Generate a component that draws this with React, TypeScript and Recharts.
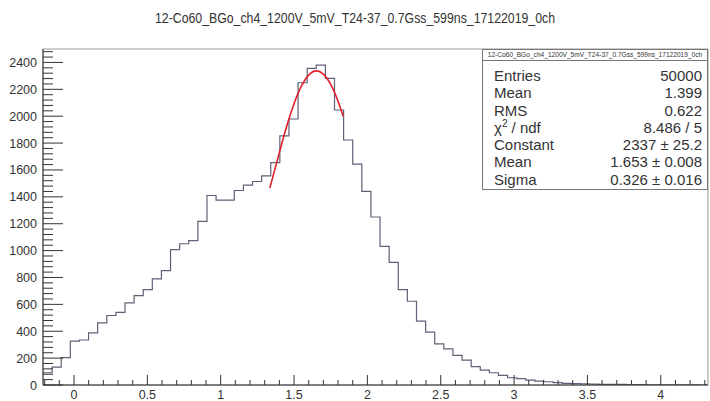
import React from "react";
import { ComposedChart, Line, XAxis, YAxis, ReferenceArea } from "recharts";

const title = "12-Co60_BGo_ch4_1200V_5mV_T24-37_0.7Gss_599ns_17122019_0ch";

// histogram: 73 equal bins starting at the left edge of the frame
const binStart = -0.2113;
const binWidth = 0.0621;
const counts = [
  91, 133, 203, 326, 335, 388, 462, 517, 541, 611, 665, 710, 789, 851,
  1007, 1051, 1074, 1217, 1410, 1376, 1376, 1447, 1487, 1514, 1556, 1655, 1853, 1979,
  2249, 2356, 2380, 2281, 2046, 1823, 1643, 1440, 1250, 1031, 912, 710, 623, 475,
  393, 306, 269, 220, 185, 136, 111, 91, 71, 54, 47, 36, 29, 24, 17,
  12, 10, 8, 7, 5, 5, 4, 3, 3, 2, 2, 1, 2, 1, 1, 0,
];

// gaussian fit curve
const fitX = [1.335, 1.4, 1.45, 1.5, 1.55, 1.6, 1.653, 1.7, 1.75, 1.8, 1.835];
const fitY = [1465, 1729, 1925, 2093, 2223, 2306, 2337, 2313, 2236, 2111, 2000];

const xMajor = [0, 0.5, 1, 1.5, 2, 2.5, 3, 3.5, 4];
const yMajor = [0, 200, 400, 600, 800, 1000, 1200, 1400, 1600, 1800, 2000, 2200, 2400];

const statLabels = ["Entries", "Mean", "RMS", "chi", "Constant", "Mean", "Sigma"];
const statValues = ["50000", "1.399", "0.622", "8.486 / 5", "2337 \u00b1 25.2", "1.653 \u00b1 0.008", "0.326 \u00b1 0.016"];

const xMin = binStart;
const xMax = binStart + counts.length * binWidth;

const histData = counts.map((c, i) => ({ x: binStart + i * binWidth, count: c }));
histData.push({ x: xMax, count: counts[counts.length - 1] });

const fitData = fitX.map((x, i) => ({ x, fit: fitY[i] }));

const xTicks: number[] = [];
for (let t = -2; t <= 43; t++) xTicks.push(t / 10);
const yTicks: number[] = [];
for (let t = 0; t <= 62; t++) yTicks.push(t * 40);

const font = '"Liberation Sans", Arial, Helvetica, sans-serif';
const ink = "#333";

const isMajor = (v: number, list: number[]) => list.some((m) => Math.abs(m - v) < 1e-6);

const XTick = ({ x, y, payload }: any) => {
  const major = isMajor(payload.value, xMajor);
  return (
    <g>
      <line x1={x} x2={x} y1={y} y2={y - (major ? 10 : 5)} stroke={ink} />
      {major && (
        <text x={x} y={y + 14} textAnchor="middle" fontSize={12.5} fontFamily={font} fill={ink}>
          {payload.value}
        </text>
      )}
    </g>
  );
};

const YTick = ({ x, y, payload }: any) => {
  const major = isMajor(payload.value, yMajor);
  return (
    <g>
      <line x1={x} x2={x + (major ? 20 : 10)} y1={y} y2={y} stroke={ink} />
      {major && (
        <text x={x - 6} y={y + 4.5} textAnchor="end" fontSize={12.5} fontFamily={font} fill={ink}>
          {payload.value}
        </text>
      )}
    </g>
  );
};

export default function App() {
  return (
    <div style={{ position: "absolute", left: 0, top: 0, width: 710, height: 401, background: "#fff", overflow: "hidden" }}>
      <div
        style={{
          position: "absolute",
          left: 0,
          top: 9,
          width: 710,
          textAlign: "center",
          fontFamily: font,
          fontSize: 15,
          color: ink,
          transform: "scaleX(0.82)",
          transformOrigin: "355px 0",
        }}
      >
        {title}
      </div>

      <ComposedChart width={710} height={401} margin={{ top: 49, right: 2, bottom: 0, left: 0 }}>
        <XAxis
          type="number"
          dataKey="x"
          domain={[xMin, xMax]}
          ticks={xTicks}
          interval={0}
          allowDataOverflow
          height={16}
          tickSize={0}
          tickMargin={0}
          tickLine={false}
          tick={<XTick />}
          axisLine={{ stroke: ink }}
        />
        <YAxis
          type="number"
          domain={[0, 2500]}
          ticks={yTicks}
          interval={0}
          allowDataOverflow
          width={43}
          tickSize={0}
          tickMargin={0}
          tickLine={false}
          tick={<YTick />}
          axisLine={{ stroke: ink }}
        />
        <ReferenceArea x1={xMin} x2={xMax} y1={0} y2={2500} fill="none" stroke="#999" ifOverflow="visible" />
        <Line
          data={histData}
          dataKey="count"
          type="stepAfter"
          stroke="#606078"
          strokeWidth={1.2}
          dot={false}
          activeDot={false}
          isAnimationActive={false}
        />
        <Line
          data={fitData}
          dataKey="fit"
          type="monotone"
          stroke="#e0202a"
          strokeWidth={1.6}
          dot={false}
          activeDot={false}
          isAnimationActive={false}
        />
      </ComposedChart>

      <div
        style={{
          position: "absolute",
          left: 482,
          top: 49,
          width: 226,
          height: 141,
          boxSizing: "border-box",
          border: "1px solid #777",
          background: "#fff",
          fontFamily: font,
          color: ink,
        }}
      >
        <div
          style={{
            height: 10,
            borderBottom: "1px solid #777",
            fontSize: 6.6,
            lineHeight: "10px",
            textAlign: "center",
            whiteSpace: "nowrap",
            overflow: "hidden",
          }}
        >
          {title}
        </div>
        <div style={{ padding: "6px 5px 0 11px" }}>
          {statLabels.map((label, i) => (
            <div
              key={i}
              style={{ display: "flex", justifyContent: "space-between", fontSize: 15, lineHeight: "17.3px" }}
            >
              <span>
                {label === "chi" ? (
                  <>
                    {"\u03c7"}
                    <sup style={{ fontSize: 10, lineHeight: 0 }}>2</sup>
                    {" / ndf"}
                  </>
                ) : (
                  label
                )}
              </span>
              <span>{statValues[i]}</span>
            </div>
          ))}
        </div>
      </div>
    </div>
  );
}
